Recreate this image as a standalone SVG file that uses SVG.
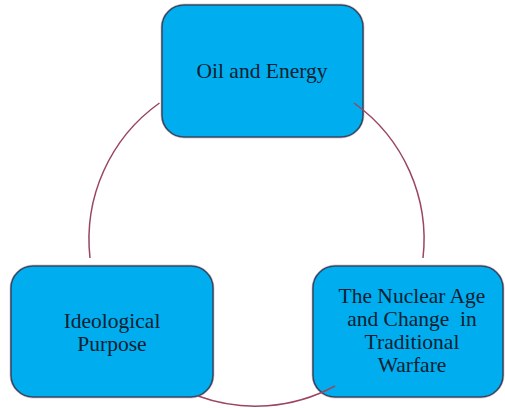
<svg xmlns="http://www.w3.org/2000/svg" width="505" height="408" viewBox="0 0 505 408">
<style>
.box{fill:#00AEEF;stroke:#2F4A64;stroke-width:1.6}
.halo{fill:none;stroke:#C86478;stroke-width:0.6;opacity:0.6}
.lbl{font-family:"Liberation Serif","Times New Roman",serif;font-size:21.5px;fill:#0A2030;text-anchor:middle;white-space:pre}
.arc{fill:none;stroke:#9A4660;stroke-width:1.5}
</style>
<rect width="505" height="408" fill="#ffffff"/>
<g id="node-oil">
<rect class="halo" x="161" y="4" width="203" height="134" rx="23"/>
<rect class="box" x="162" y="5" width="201" height="132" rx="22"/>
<text class="lbl" x="262" y="78">Oil and Energy</text>
</g>
<g id="node-ideological">
<rect class="halo" x="10" y="265" width="204" height="133" rx="23"/>
<rect class="box" x="11" y="266" width="202" height="131" rx="22"/>
<text class="lbl" x="112" y="328">Ideological</text>
<text class="lbl" x="112" y="351">Purpose</text>
</g>
<g id="node-nuclear">
<rect class="halo" x="312" y="265" width="192" height="133" rx="23"/>
<rect class="box" x="313" y="266" width="190" height="131" rx="22"/>
<text class="lbl" x="412" y="303">The Nuclear Age</text>
<text class="lbl" x="412" y="326">and Change  in</text>
<text class="lbl" x="412" y="349">Traditional</text>
<text class="lbl" x="412" y="372">Warfare</text>
</g>
<g id="connectors">
<path class="arc" d="M159.5,103 A167.5,167.5 0 0 0 90,258"/>
<path class="arc" d="M354,103 A167.5,167.5 0 0 1 423,258"/>
<path class="arc" d="M198,396 A167.5,167.5 0 0 0 335,386"/>
</g>
</svg>
